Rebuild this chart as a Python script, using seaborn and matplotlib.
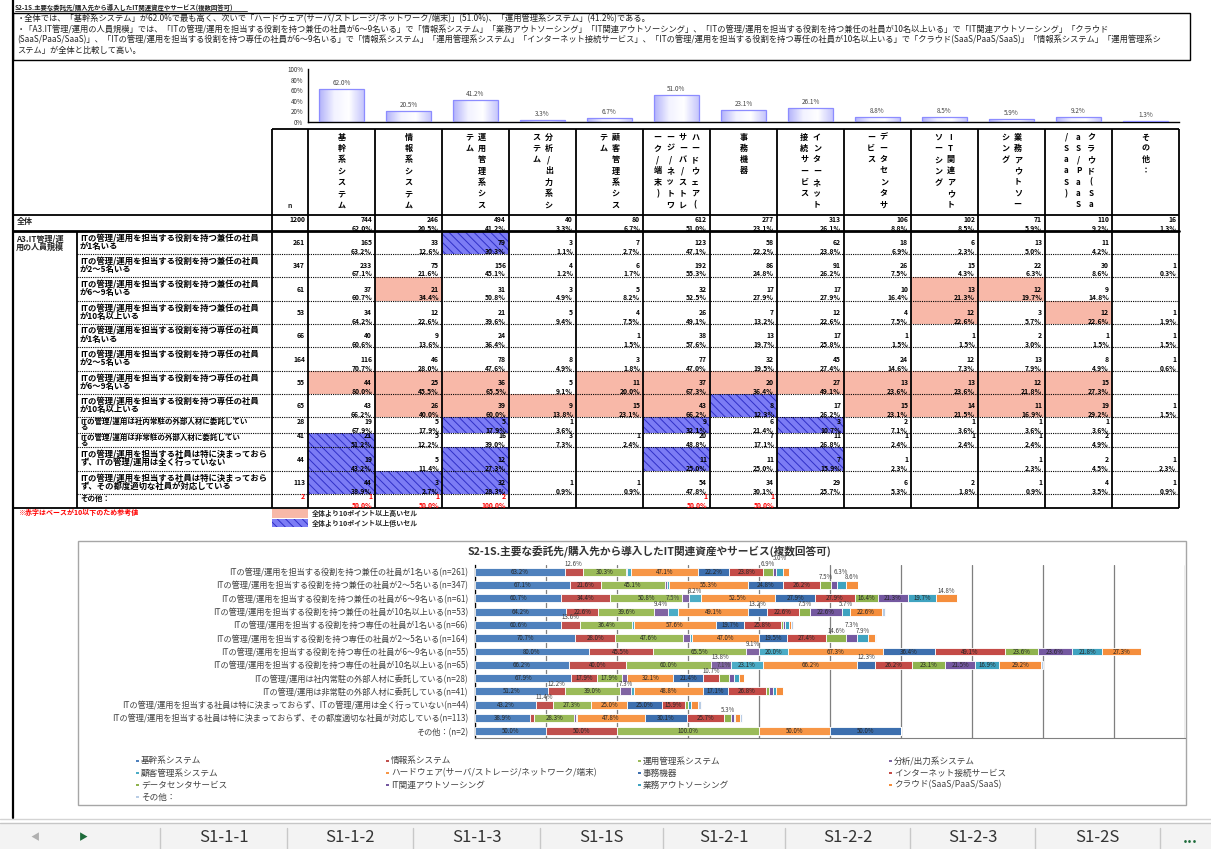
import matplotlib
matplotlib.use("Agg")
import matplotlib.pyplot as plt
import matplotlib.patches as mpatches
from matplotlib.colors import LinearSegmentedColormap
import numpy as np
import pandas as pd
import seaborn as sns

# ---- data -----------------------------------------------------------------
TITLE = "S2-1S.主要な委託先/購入先から導入したIT関連資産やサービス(複数回答可)"

SUMMARY_LINES = [
    "・全体では、「基幹系システム」が62.0%で最も高く、次いで「ハードウェア(サーバ/ストレージ/ネットワーク/端末)」(51.0%)、「運用管理系システム」(41.2%)である。",
    "・「A3.IT管理/運用の人員規模」では、「ITの管理/運用を担当する役割を持つ兼任の社員が6～9名いる」で「情報系システム」「業務アウトソーシング」「IT関連アウトソーシング」、「ITの管理/運用を担当する役割を持つ兼任の社員が10名以上いる」で「IT関連アウトソーシング」「クラウド",
    "(SaaS/PaaS/SaaS)」、「ITの管理/運用を担当する役割を持つ専任の社員が6～9名いる」で「情報系システム」「運用管理系システム」「インターネット接続サービス」、「ITの管理/運用を担当する役割を持つ専任の社員が10名以上いる」で「クラウド(SaaS/PaaS/SaaS)」「情報系システム」「運用管理系シ",
    "ステム」が全体と比較して高い。",
]

CATEGORIES = [
    "基幹系システム", "情報系システム", "運用管理系システム", "分析/出力系システム",
    "顧客管理系システム", "ハードウェア(サーバ/ストレージ/ネットワーク/端末)", "事務機器",
    "インターネット接続サービス", "データセンタサービス", "IT関連アウトソーシング",
    "業務アウトソーシング", "クラウド(SaaS/PaaS/SaaS)", "その他：",
]
TOTAL_N = 1200
TOTAL_PCT = [62.0, 20.5, 41.2, 3.3, 6.7, 51.0, 23.1, 26.1, 8.8, 8.5, 5.9, 9.2, 1.3]

GROUP_LABEL = ["A3.IT管理/運", "用の人員規模"]
ROW_LABELS = [
    "ITの管理/運用を担当する役割を持つ兼任の社員\nが1名いる",
    "ITの管理/運用を担当する役割を持つ兼任の社員\nが2～5名いる",
    "ITの管理/運用を担当する役割を持つ兼任の社員\nが6～9名いる",
    "ITの管理/運用を担当する役割を持つ兼任の社員\nが10名以上いる",
    "ITの管理/運用を担当する役割を持つ専任の社員\nが1名いる",
    "ITの管理/運用を担当する役割を持つ専任の社員\nが2～5名いる",
    "ITの管理/運用を担当する役割を持つ専任の社員\nが6～9名いる",
    "ITの管理/運用を担当する役割を持つ専任の社員\nが10名以上いる",
    "ITの管理/運用は社内常駐の外部人材に委託してい\nる",
    "ITの管理/運用は非常駐の外部人材に委託してい\nる",
    "ITの管理/運用を担当する社員は特に決まっておら\nず、ITの管理/運用は全く行っていない",
    "ITの管理/運用を担当する社員は特に決まっておら\nず、その都度適切な社員が対応している",
    "その他：",
]
ROW_N = [261, 347, 61, 53, 66, 164, 55, 65, 28, 41, 44, 113, 2]

# percentages per row, same order as CATEGORIES
PCT_KENNIN_1 = [63.2, 12.6, 30.3, 1.1, 2.7, 47.1, 22.2, 23.8, 6.9, 2.3, 5.0, 4.2, 0.0]
PCT_KENNIN_2_5 = [67.1, 21.6, 45.1, 1.2, 1.7, 55.3, 24.8, 26.2, 7.5, 4.3, 6.3, 8.6, 0.3]
PCT_KENNIN_6_9 = [60.7, 34.4, 50.8, 4.9, 8.2, 52.5, 27.9, 27.9, 16.4, 21.3, 19.7, 14.8, 0.0]
PCT_KENNIN_10 = [64.2, 22.6, 39.6, 9.4, 7.5, 49.1, 13.2, 22.6, 7.5, 22.6, 5.7, 22.6, 1.9]
PCT_SENNIN_1 = [60.6, 13.6, 36.4, 0.0, 1.5, 57.6, 19.7, 25.8, 1.5, 1.5, 3.0, 1.5, 1.5]
PCT_SENNIN_2_5 = [70.7, 28.0, 47.6, 4.9, 1.8, 47.0, 19.5, 27.4, 14.6, 7.3, 7.9, 4.9, 0.6]
PCT_SENNIN_6_9 = [80.0, 45.5, 65.5, 9.1, 20.0, 67.3, 36.4, 49.1, 23.6, 23.6, 21.8, 27.3, 0.0]
PCT_SENNIN_10 = [66.2, 40.0, 60.0, 13.8, 23.1, 66.2, 12.3, 26.2, 23.1, 21.5, 16.9, 29.2, 1.5]
PCT_JOCHU = [67.9, 17.9, 17.9, 3.6, 0.0, 32.1, 21.4, 10.7, 7.1, 3.6, 3.6, 3.6, 0.0]
PCT_HIJOCHU = [51.2, 12.2, 39.0, 7.3, 2.4, 48.8, 17.1, 26.8, 2.4, 2.4, 2.4, 4.9, 0.0]
PCT_NASHI = [43.2, 11.4, 27.3, 0.0, 0.0, 25.0, 25.0, 15.9, 2.3, 0.0, 2.3, 4.5, 2.3]
PCT_TSUDO = [38.9, 2.7, 28.3, 0.9, 0.9, 47.8, 30.1, 25.7, 5.3, 1.8, 0.9, 3.5, 0.9]
PCT_OTHER = [50.0, 50.0, 100.0, 0.0, 0.0, 50.0, 50.0, 0.0, 0.0, 0.0, 0.0, 0.0, 0.0]

ROWS_PCT = [
    PCT_KENNIN_1, PCT_KENNIN_2_5, PCT_KENNIN_6_9, PCT_KENNIN_10,
    PCT_SENNIN_1, PCT_SENNIN_2_5, PCT_SENNIN_6_9, PCT_SENNIN_10,
    PCT_JOCHU, PCT_HIJOCHU, PCT_NASHI, PCT_TSUDO, PCT_OTHER,
]

SERIES_COLORS = [
    "#4F81BD", "#C0504D", "#9BBB59", "#8064A2", "#4BACC6", "#F79646",
    "#3D6FAE", "#C44B47", "#8FB34E", "#7458A0", "#3FA3C0", "#F58E3C", "#B9CDE5",
]

SHEET_TABS = ["S1-1-1", "S1-1-2", "S1-1-3", "S1-1S", "S1-2-1", "S1-2-2", "S1-2-3", "S1-2S"]

# ---- layout (pixels) --------------------------------------------------------
W, H = 1211, 849
TAB_L, GRP_R, N_L, COL_L, COL_W = 13, 77, 272, 308, 67.0
TAB_R = COL_L + COL_W * len(CATEGORIES)
HEAD_T, HEAD_B, TOTAL_B = 129, 215, 231
ROW_EDGES = [231, 254, 277, 301, 324, 347, 371, 394, 417, 433, 447, 471, 494, 508]

SALMON = "#F8B8A8"
HATCH_BLUE = "#7C7CF5"


def frac(x0, y0, x1, y1):
    return [x0 / W, 1 - y1 / H, (x1 - x0) / W, (y1 - y0) / H]


sns.set_theme(style="white")
plt.rcParams["font.family"] = ["Noto Sans CJK JP", "DejaVu Sans"]
plt.rcParams["hatch.linewidth"] = 0.7

fig = plt.figure(figsize=(W / 100, H / 100), dpi=100)
fig.patch.set_facecolor("white")

ov = fig.add_axes([0, 0, 1, 1])
ov.set_xlim(0, W)
ov.set_ylim(H, 0)
ov.axis("off")

# ---- title + summary box -----------------------------------------------------
ov.text(15, 7, TITLE, fontsize=4.6, fontweight="bold", va="center", color="#222222")
ov.plot([15, 247], [10.5, 10.5], color="#222222", lw=0.6)
ov.add_patch(mpatches.Rectangle((TAB_L, 13), 1190 - TAB_L, 47, fill=False, ec="black", lw=1))
for i, line in enumerate(SUMMARY_LINES):
    ov.text(17, 19 + i * 10.4, line, fontsize=5.95, va="center", color="#222222")
ov.plot([TAB_L, TAB_L], [0, 818], color="black", lw=1.6)

# ---- top bar chart (seaborn) --------------------------------------------------
ax1 = fig.add_axes(frac(COL_L, 69, TAB_R, 122))
df_top = pd.DataFrame({"category": CATEGORIES, "pct": TOTAL_PCT})
sns.barplot(data=df_top, x="category", y="pct", ax=ax1, color="#ccccff",
            edgecolor="#8c8cff", linewidth=0.9, width=0.67)
bar_cmap = LinearSegmentedColormap.from_list("bar", ["#b2b2fa", "#f2f2ff", "#ffffff", "#c6c6fc"])
grad = np.linspace(0, 1, 64).reshape(1, -1)
for p in ax1.patches:
    x0, y0, w, h = p.get_x(), p.get_y(), p.get_width(), p.get_height()
    im = ax1.imshow(grad, extent=[x0, x0 + w, y0, y0 + h], aspect="auto", cmap=bar_cmap, zorder=2)
    im.set_clip_path(p)
    p.set_facecolor("none")
    p.set_zorder(3)
for i, v in enumerate(TOTAL_PCT):
    ax1.text(i, v + 4, f"{v:.1f}%", ha="center", va="bottom", fontsize=4.6, color="#444444")
ax1.set_xlim(-0.5, len(CATEGORIES) - 0.5)
ax1.set_ylim(0, 100)
ax1.set_yticks(range(0, 101, 20))
ax1.set_yticklabels([f"{t}%" for t in range(0, 101, 20)], fontsize=4.5, color="#333333")
ax1.set_xticks(np.arange(0.5, len(CATEGORIES) - 0.5, 1))
ax1.set_xticklabels([])
ax1.set_xlabel("")
ax1.set_ylabel("")
ax1.tick_params(axis="x", length=2.5, width=1.2, color="black", direction="out")
ax1.tick_params(axis="y", length=2, width=0.8, color="black", direction="out", pad=1.5)
for side in ("top", "right"):
    ax1.spines[side].set_visible(False)
for side in ("left", "bottom"):
    ax1.spines[side].set_color("black")
    ax1.spines[side].set_linewidth(1.0)
ax1.patch.set_alpha(0)

# ---- table header ---------------------------------------------------------------
def draw_vertical(text, cx, top, per_col=7, dy=11.3, dx=12.5):
    chunks = [text[i:i + per_col] for i in range(0, len(text), per_col)]
    ncol = len(chunks)
    for k, chunk in enumerate(chunks):
        x = cx + (ncol - 1) / 2 * dx - k * dx
        for m, ch in enumerate(chunk):
            ov.text(x, top + m * dy, ch, ha="center", va="center",
                    fontsize=5.8, fontweight="bold", color="black")


for j, cat in enumerate(CATEGORIES):
    draw_vertical(cat, COL_L + (j + 0.5) * COL_W, 137)
ov.text(N_L + 18, 205, "n", ha="center", va="center", fontsize=5, fontweight="bold")

# ---- table cells ---------------------------------------------------------------
CELL_FS = 4.9


def draw_cells(y_top, y_bot, n, pcts, base_color, highlight):
    for j, p in enumerate(pcts):
        x0 = COL_L + j * COL_W
        diff = p - TOTAL_PCT[j]
        if highlight and diff >= 10:
            ov.add_patch(mpatches.Rectangle((x0, y_top), COL_W, y_bot - y_top, fc=SALMON, ec="none", zorder=0))
        elif highlight and diff <= -10:
            ov.add_patch(mpatches.Rectangle((x0, y_top), COL_W, y_bot - y_top, fc=HATCH_BLUE,
                                            ec="#3030c8", lw=0, hatch="\\\\\\\\", zorder=0))
        count = int(round(n * p / 100))
        if count == 0:
            continue
        ov.text(x0 + COL_W - 3, y_bot - 8, f"{count}", ha="right", va="bottom",
                fontsize=CELL_FS, fontweight="bold", color=base_color)
        ov.text(x0 + COL_W - 3, y_bot + 0.5, f"{p:.1f}%", ha="right", va="bottom",
                fontsize=CELL_FS, fontweight="bold", color=base_color)
    ov.text(COL_L - 3, y_bot - 8, f"{n}", ha="right", va="bottom",
            fontsize=CELL_FS, fontweight="bold", color=base_color)


# total row
ov.text(TAB_L + 4, (TOTAL_B + HEAD_B) / 2 - 2, "全体", va="center", fontsize=5.8, fontweight="bold")
draw_cells(HEAD_B, TOTAL_B, TOTAL_N, TOTAL_PCT, "black", False)

for r, (label, n, pcts) in enumerate(zip(ROW_LABELS, ROW_N, ROWS_PCT)):
    y_top, y_bot = ROW_EDGES[r], ROW_EDGES[r + 1]
    color = "#FF0000" if n < 10 else "black"
    draw_cells(y_top, y_bot, n, pcts, color, n >= 10)
    short = (y_bot - y_top) < 18
    fs, step, off = (5.4, 6.6, 0.5) if short else (6.0, 8.6, 2)
    for k, line in enumerate(label.split("\n")):
        ov.text(GRP_R + 3, y_top + off + k * step, line, va="top", fontsize=fs,
                fontweight="bold", color="black")
    if r < len(ROW_LABELS) - 1:
        ov.plot([GRP_R, TAB_R], [y_bot, y_bot], color="black", lw=0.8, ls=(0, (1, 1)))

for k, line in enumerate(GROUP_LABEL):
    ov.text(TAB_L + 3, ROW_EDGES[0] + 3 + k * 8.5, line, va="top", fontsize=5.8, fontweight="bold")

# table grid lines
line_kw = dict(color="black", lw=1.3, solid_capstyle="butt")
ov.plot([N_L, TAB_R], [HEAD_T, HEAD_T], **line_kw)
ov.plot([TAB_L, TAB_R], [HEAD_B, HEAD_B], **line_kw)
ov.plot([TAB_L, TAB_R], [TOTAL_B, TOTAL_B], color="black", lw=2.0)
ov.plot([TAB_L, TAB_R], [ROW_EDGES[-1], ROW_EDGES[-1]], **line_kw)
ov.plot([TAB_L, TAB_L], [HEAD_B, ROW_EDGES[-1]], **line_kw)
ov.plot([GRP_R, GRP_R], [TOTAL_B, ROW_EDGES[-1]], **line_kw)
for j in range(len(CATEGORIES) + 2):
    x = N_L if j == 0 else COL_L + (j - 1) * COL_W
    ov.plot([x, x], [HEAD_T, ROW_EDGES[-1]], **line_kw)

# notes below table
ov.text(TAB_L + 5, 512, "※赤字はベースが10以下のため参考値", fontsize=5, fontweight="bold",
        color="#FF0000", va="center")
ov.add_patch(mpatches.Rectangle((N_L, 509), COL_L - N_L, 8.5, fc=SALMON, ec="none"))
ov.add_patch(mpatches.Rectangle((N_L, 518.5), COL_L - N_L, 8.5, fc=HATCH_BLUE, ec="#3030c8",
                                lw=0, hatch="\\\\\\\\"))
ov.text(COL_L + 4, 513, "全体より10ポイント以上高いセル", fontsize=5, fontweight="bold", va="center")
ov.text(COL_L + 4, 523, "全体より10ポイント以上低いセル", fontsize=5, fontweight="bold", va="center")

# ---- bottom stacked chart ------------------------------------------------------------
ov.add_patch(mpatches.Rectangle((78, 541), 1186 - 78, 264, fill=False, ec="#a6a6a6", lw=1))
ov.text(649, 551, TITLE, ha="center", va="center", fontsize=7.7, fontweight="bold", color="#333333")

ax2 = fig.add_axes(frac(475, 565, 1185, 738))
chart_labels = [lbl.replace("\n", "") + f"(n={n})" for lbl, n in zip(ROW_LABELS, ROW_N)]
ypos = np.arange(len(ROWS_PCT))
left = np.zeros(len(ROWS_PCT))
last_above = {y: (-100.0, 0) for y in ypos}  # (x of previous label above, level)
for j in range(len(CATEGORIES)):
    vals = np.array([row[j] for row in ROWS_PCT])
    ax2.barh(ypos, vals, left=left, height=0.6, color=SERIES_COLORS[j],
             edgecolor="white", linewidth=0.6, zorder=3)
    for y, v, l in zip(ypos, vals, left):
        cx = l + v / 2
        if v >= 15:
            ax2.text(cx, y, f"{v:.1f}%", ha="center", va="center",
                     fontsize=4.4, color="#262626", zorder=4)
        elif v >= 5:
            prev_x, prev_lvl = last_above[y]
            lvl = 1 - prev_lvl if cx - prev_x < 14 else 0
            ax2.text(cx, y - 0.27 - lvl * 0.42, f"{v:.1f}%", ha="center", va="bottom",
                     fontsize=4.4, color="#404040", zorder=4)
            last_above[y] = (cx, lvl)
    left += vals

ax2.set_xlim(0, 500)
ax2.set_ylim(len(ROWS_PCT) - 0.5, -0.5)
ax2.set_xticks(np.arange(0, 501, 50))
ax2.set_xticklabels([])
ax2.set_yticks(ypos)
ax2.set_yticklabels(chart_labels, fontsize=5.9, color="#404040")
ax2.set_yticks(np.arange(-0.5, len(ROWS_PCT), 1), minor=True)
ax2.tick_params(axis="y", which="major", length=0, pad=5)
ax2.tick_params(axis="y", which="minor", length=3, width=0.8, color="black", direction="out")
ax2.tick_params(axis="x", length=3, width=0.8, color="#808080", direction="out")
ax2.grid(axis="x", color="#7f7f7f", lw=0.9)
ax2.set_axisbelow(True)
for side in ("top", "right"):
    ax2.spines[side].set_visible(False)
ax2.spines["left"].set_color("black")
ax2.spines["left"].set_linewidth(0.9)
ax2.spines["bottom"].set_color("#808080")
ax2.spines["bottom"].set_linewidth(0.8)
ax2.patch.set_alpha(0)

# legend (4 columns, row-wise)
LEG_X = [140, 390, 642, 893]
LEG_Y = [761, 773, 785, 797]
for j, cat in enumerate(CATEGORIES):
    x, y = LEG_X[j % 4], LEG_Y[j // 4]
    ov.add_patch(mpatches.Rectangle((x - 4, y - 1), 3, 2, fc=SERIES_COLORS[j], ec="none"))
    ov.text(x + 1, y, cat, fontsize=6.2, va="center", color="#404040")

# ---- sheet tab bar -----------------------------------------------------------------
ov.plot([0, W], [819, 819], color="#d4d4d4", lw=1)
ov.add_patch(mpatches.Rectangle((0, 823), W, H - 823, fc="#f3f3f3", ec="none"))
ov.plot([0, W], [823, 823], color="#c6c6c6", lw=1)
ov.text(35, 838, "◀", ha="center", va="center", fontsize=6.5, color="#b0b0b0")
ov.text(83, 838, "▶", ha="center", va="center", fontsize=6.5, color="#1d6b3a")
SEP_X = [160, 287, 413, 540, 663, 785, 910, 1035, 1160]
for x in SEP_X:
    ov.plot([x, x], [828, H], color="#c8c8c8", lw=1)
for k, tab in enumerate(SHEET_TABS):
    cx = (SEP_X[k] + SEP_X[k + 1]) / 2
    ov.text(cx, 838, tab, ha="center", va="center", fontsize=12, color="#333333")
ov.text(1190, 838, "...", ha="center", va="center", fontsize=11, fontweight="bold", color="#1d6b3a")

fig.savefig("out.png", dpi=100)
